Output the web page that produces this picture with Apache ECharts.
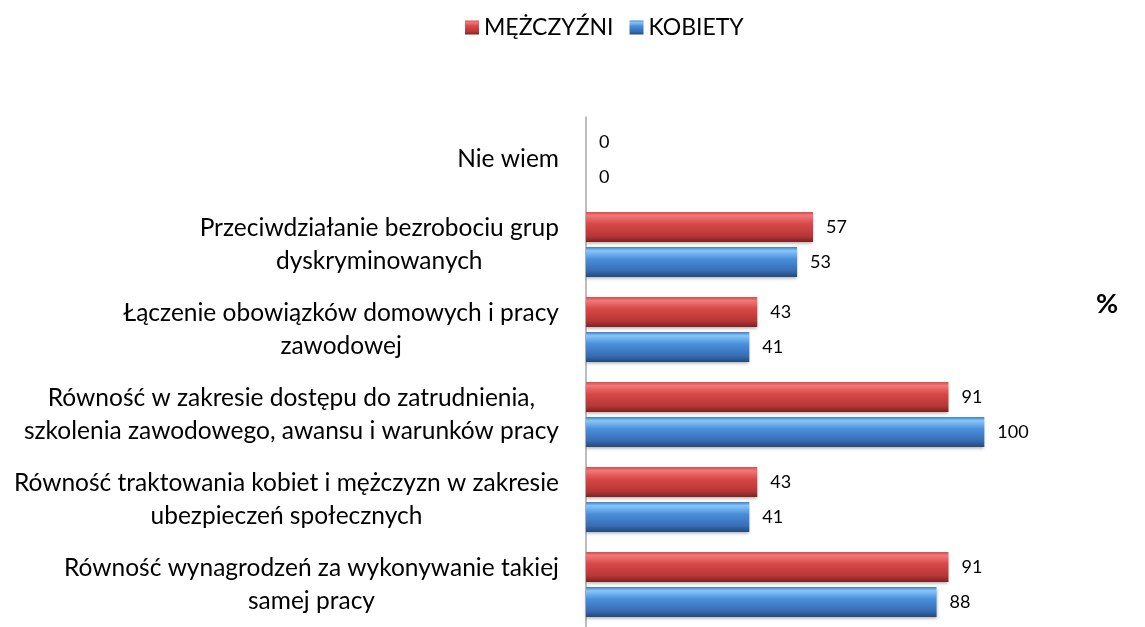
<!DOCTYPE html>
<html>
<head>
<meta charset="utf-8">
<script src="https://cdn.jsdelivr.net/npm/echarts@6/dist/echarts.min.js"></script>
<style>
	html, body { margin: 0; padding: 0; background: #fff; }
	#chart { width: 1145px; height: 627px; }
</style>
</head>
<body>
<div id="chart"></div>
<script>
// categories listed top to bottom, as in the picture
const categories = [
	"Nie wiem",
	"Przeciwdziałanie bezrobociu grup\ndyskryminowanych",
	"Łączenie obowiązków domowych i pracy\nzawodowej",
	"Równość w zakresie dostępu do zatrudnienia,\nszkolenia zawodowego, awansu i warunków pracy",
	"Równość traktowania kobiet i mężczyzn w zakresie\nubezpieczeń społecznych",
	"Równość wynagrodzeń za wykonywanie takiej\nsamej pracy",
];
const menValues = [0, 57, 43, 91, 43, 91];
const womenValues = [0, 53, 41, 100, 41, 88];
const seriesNames = ["MĘŻCZYŹNI", "KOBIETY"];
const unitLabel = "%";

const FONT = "Lato, 'Open Sans', sans-serif";

function grad(stops) {
	return new echarts.graphic.LinearGradient(0, 0, 0, 1,
		stops.map(([offset, color]) => ({ offset, color })));
}

const redFill = grad([[0, "#d84a4a"], [0.12, "#f27878"], [0.4, "#d84848"], [0.8, "#b73636"], [1, "#7e2222"]]);
const blueFill = grad([[0, "#3f7fcc"], [0.12, "#88c6f8"], [0.4, "#4a8fdc"], [0.8, "#366cb2"], [1, "#24497a"]]);

// ECharts draws the first category at the bottom, so flip the lists
const yCats = categories.slice().reverse();
const men = menValues.slice().reverse();
const women = womenValues.slice().reverse();

const barLabel = {
	show: true,
	position: "right",
	distance: 13,
	color: "#000",
	fontSize: 18,
	fontFamily: FONT,
};

const barShadow = {
	shadowColor: "rgba(0,0,0,0.3)",
	shadowBlur: 3,
	shadowOffsetY: 2,
};

const chart = echarts.init(document.getElementById("chart"));

chart.setOption({
	backgroundColor: "#fff",
	animation: false,
	legend: {
		data: seriesNames,
		top: 11,
		left: 460,
		icon: "rect",
		itemWidth: 14,
		itemHeight: 14,
		itemGap: 16,
		textStyle: { fontSize: 23, color: "#000", fontFamily: FONT },
	},
	grid: { left: 586, width: 478, top: 117, height: 516 },
	xAxis: {
		type: "value",
		min: 0,
		max: 120,
		show: false,
	},
	yAxis: {
		type: "category",
		data: yCats,
		axisLine: { show: true, lineStyle: { color: "#a6a6a6", width: 1.5 } },
		axisTick: { show: false },
		axisLabel: {
			margin: 27,
			formatter: (v) => v.split("\n").map((l) => "{c|" + l + "}").join("\n"),
			rich: {
				c: {
					align: "center",
					fontSize: 24.5,
					lineHeight: 33,
					color: "#000",
					fontFamily: FONT,
				},
			},
		},
	},
	series: [
		{
			name: seriesNames[0],
			type: "bar",
			data: men,
			barWidth: 30,
			barGap: "17%",
			itemStyle: Object.assign({ color: redFill }, barShadow),
			label: barLabel,
		},
		{
			name: seriesNames[1],
			type: "bar",
			data: women,
			barWidth: 30,
			barGap: "17%",
			itemStyle: Object.assign({ color: blueFill }, barShadow),
			label: barLabel,
		},
	],
	graphic: [
		{
			type: "text",
			left: 1096,
			top: 291,
			style: {
				text: unitLabel,
				fontSize: 27,
				fontWeight: "bold",
				fill: "#000",
				fontFamily: FONT,
			},
		},
	],
});
</script>
</body>
</html>
